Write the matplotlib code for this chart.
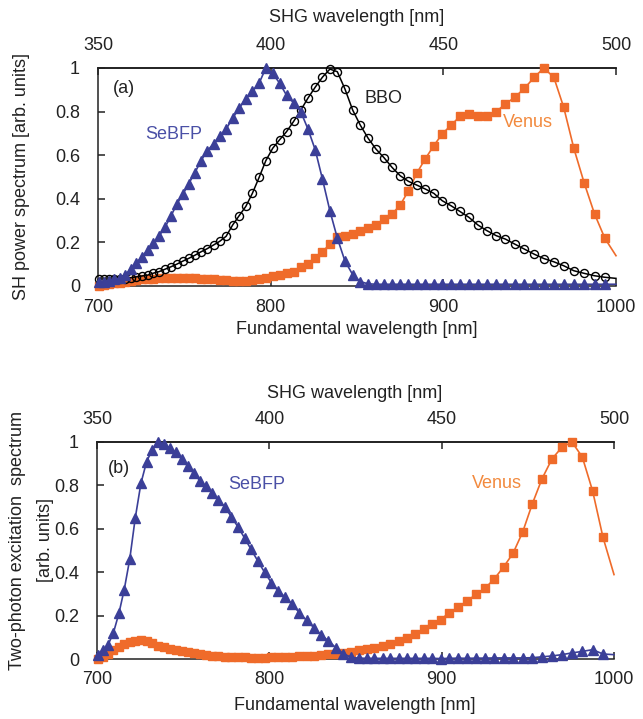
import matplotlib
matplotlib.use("Agg")
import matplotlib.pyplot as plt
from matplotlib.ticker import FuncFormatter, FixedLocator

plt.rcParams['font.family'] = ['Liberation Sans', 'DejaVu Sans']

# Fundamental wavelength grid (nm); last entry is the line end at 1000 nm (no marker)
wavelength = [700.3, 703.3, 706.4, 709.5, 712.7, 715.8, 719.0, 722.2, 725.5, 728.8,
              732.1, 735.4, 738.8, 742.2, 745.6, 749.1, 752.6, 756.1, 759.7, 763.2,
              766.9, 770.5, 774.2, 778.0, 781.7, 785.6, 789.4, 793.3, 797.2, 801.2,
              805.2, 809.2, 813.3, 817.4, 821.6, 825.8, 830.0, 834.3, 838.6, 843.0,
              847.5, 851.9, 856.5, 861.0, 865.7, 870.3, 875.0, 879.8, 884.6, 889.5,
              894.5, 899.4, 904.5, 909.6, 914.8, 920.0, 925.2, 930.6, 936.0, 941.4,
              947.0, 952.6, 958.2, 964.0, 969.7, 975.6, 981.6, 987.6, 993.6, 1000.0]

# (a) SH power spectrum
sh_sebfp = [0.02, 0.02, 0.025, 0.03, 0.035, 0.05, 0.08, 0.105, 0.135, 0.165,
            0.195, 0.23, 0.27, 0.32, 0.375, 0.42, 0.47, 0.52, 0.575, 0.62,
            0.652, 0.688, 0.72, 0.77, 0.815, 0.86, 0.893, 0.93, 1.0, 0.975,
            0.93, 0.875, 0.84, 0.80, 0.72, 0.625, 0.49, 0.345, 0.22, 0.115,
            0.052, 0.02, 0.01, 0.008, 0.008, 0.008, 0.008, 0.008, 0.008, 0.008,
            0.008, 0.008, 0.008, 0.008, 0.008, 0.008, 0.008, 0.008, 0.008, 0.008,
            0.008, 0.008, 0.008, 0.008, 0.008, 0.008, 0.008, 0.008, 0.008, 0.008]
sh_bbo = [0.032, 0.032, 0.032, 0.032, 0.033, 0.034, 0.038, 0.042, 0.046, 0.050,
          0.059, 0.066, 0.077, 0.088, 0.10, 0.114, 0.127, 0.141, 0.157, 0.171,
          0.188, 0.205, 0.228, 0.28, 0.322, 0.365, 0.425, 0.498, 0.575, 0.632,
          0.671, 0.708, 0.755, 0.806, 0.862, 0.912, 0.958, 0.995, 0.983, 0.904,
          0.807, 0.738, 0.677, 0.628, 0.588, 0.544, 0.506, 0.480, 0.463, 0.445,
          0.425, 0.391, 0.368, 0.342, 0.315, 0.28, 0.254, 0.231, 0.215, 0.192,
          0.169, 0.146, 0.126, 0.111, 0.093, 0.070, 0.058, 0.047, 0.040, 0.035]
sh_venus = [0.0, 0.003, 0.007, 0.012, 0.016, 0.02, 0.024, 0.027, 0.03, 0.032,
            0.034, 0.036, 0.037, 0.038, 0.038, 0.038, 0.037, 0.036, 0.034, 0.032,
            0.03, 0.028, 0.026, 0.025, 0.024, 0.025, 0.027, 0.031, 0.037, 0.047,
            0.052, 0.059, 0.066, 0.085, 0.10, 0.128, 0.157, 0.192, 0.223, 0.231,
            0.240, 0.252, 0.264, 0.280, 0.307, 0.330, 0.371, 0.437, 0.517, 0.583,
            0.644, 0.698, 0.738, 0.778, 0.789, 0.781, 0.778, 0.80, 0.835, 0.866,
            0.907, 0.957, 1.0, 0.957, 0.82, 0.631, 0.472, 0.330, 0.218, 0.139]

# (b) Two-photon excitation spectrum
tp_sebfp = [0.02, 0.04, 0.065, 0.12, 0.21, 0.32, 0.46, 0.65, 0.81, 0.91,
            0.965, 1.0, 0.99, 0.972, 0.953, 0.922, 0.888, 0.856, 0.822, 0.795,
            0.766, 0.735, 0.70, 0.655, 0.61, 0.558, 0.505, 0.452, 0.40, 0.352,
            0.313, 0.285, 0.252, 0.213, 0.178, 0.145, 0.112, 0.083, 0.052, 0.024,
            0.008, 0.004, 0.003, 0.003, 0.003, 0.003, 0.003, 0.003, 0.003, 0.003,
            0.003, 0.002, 0.003, 0.004, 0.003, 0.004, 0.004, 0.005, 0.005, 0.005,
            0.005, 0.006, 0.01, 0.014, 0.02, 0.028, 0.035, 0.043, 0.023, 0.02]
tp_venus = [0.0, 0.01, 0.025, 0.04, 0.055, 0.068, 0.078, 0.085, 0.088, 0.083,
            0.072, 0.062, 0.054, 0.047, 0.041, 0.036, 0.031, 0.027, 0.023, 0.019,
            0.016, 0.013, 0.011, 0.009, 0.008, 0.007, 0.006, 0.006, 0.006, 0.007,
            0.008, 0.009, 0.01, 0.012, 0.013, 0.015, 0.018, 0.021, 0.024, 0.029,
            0.034, 0.04, 0.044, 0.05, 0.058, 0.068, 0.082, 0.097, 0.117, 0.14,
            0.163, 0.182, 0.213, 0.24, 0.268, 0.298, 0.326, 0.37, 0.425, 0.487,
            0.585, 0.715, 0.83, 0.922, 0.975, 1.0, 0.931, 0.774, 0.561, 0.389]

x_ticks = [700, 800, 900, 1000]
shg_ticks = [350, 400, 450, 500]
y_ticks = [0, 0.2, 0.4, 0.6, 0.8, 1.0]

BLUE = '#3b3f98'
BLUE_TXT = '#4a50a6'
ORANGE = '#ef6b2a'
ORANGE_TXT = '#f28a3e'
TXT = '#222222'

W, H = 643, 719
fig = plt.figure(figsize=(W / 100, H / 100), dpi=100)


def axes_px(left, top, right, bottom):
    return fig.add_axes([left / W, 1 - bottom / H, (right - left) / W, (bottom - top) / H])


ax1 = axes_px(98, 68, 616, 286)
ax2 = axes_px(97, 442, 614, 659)

nmark = len(wavelength) - 1


def yfmt(v, _):
    if abs(v) < 1e-9:
        return '0'
    if abs(v - 1) < 1e-9:
        return '1'
    return f'{v:.1f}'


def style(ax):
    ax.set_xlim(700, 1000)
    ax.set_ylim(0, 1)
    ax.spines['right'].set_visible(False)
    for s in ['left', 'bottom', 'top']:
        ax.spines[s].set_linewidth(1.1)
        ax.spines[s].set_color('#222222')
    ax.xaxis.set_major_locator(FixedLocator(x_ticks))
    ax.yaxis.set_major_locator(FixedLocator(y_ticks))
    ax.yaxis.set_major_formatter(FuncFormatter(yfmt))
    ax.tick_params(axis='x', direction='in', length=5, width=1.1, labelsize=13,
                   pad=9, colors=TXT, top=False)
    ax.tick_params(axis='y', direction='in', length=5, width=1.1, labelsize=13,
                   pad=13, colors=TXT, right=False)
    sec = ax.secondary_xaxis('top', functions=(lambda x: x / 2, lambda x: x * 2))
    sec.xaxis.set_major_locator(FixedLocator(shg_ticks))
    sec.tick_params(direction='in', length=5, width=1.1, labelsize=13, pad=10, colors=TXT)
    sec.spines['top'].set_linewidth(1.1)
    return sec


def series(ax, y, color, marker, ms, mfc, mec, lw=1.2, z=3):
    ax.plot(wavelength, y, color=color, lw=lw, marker=marker, ms=ms,
            mfc=mfc, mec=mec, mew=1.0, markevery=list(range(nmark)),
            clip_on=False, zorder=z)


style(ax1)
series(ax1, sh_venus, ORANGE, 's', 5.4, ORANGE, ORANGE, z=3)
series(ax1, sh_bbo, 'black', 'o', 5.8, 'none', 'black', lw=1.1, z=4)
series(ax1, sh_sebfp, BLUE, '^', 6.6, BLUE, BLUE, z=5)

style(ax2)
series(ax2, tp_venus, ORANGE, 's', 5.4, ORANGE, ORANGE, z=3)
series(ax2, tp_sebfp, BLUE, '^', 6.6, BLUE, BLUE, z=4)

# annotations
ax1.text(0.029, 0.908, '(a)', transform=ax1.transAxes, fontsize=13, color=TXT, va='center')
ax1.text(0.091, 0.697, 'SeBFP', transform=ax1.transAxes, fontsize=13, color=BLUE_TXT, va='center')
ax1.text(0.515, 0.858, 'BBO', transform=ax1.transAxes, fontsize=13, color=TXT, va='center')
ax1.text(0.782, 0.752, 'Venus', transform=ax1.transAxes, fontsize=13, color=ORANGE_TXT, va='center')

ax2.text(0.021, 0.880, '(b)', transform=ax2.transAxes, fontsize=13, color=TXT, va='center')
ax2.text(0.253, 0.802, 'SeBFP', transform=ax2.transAxes, fontsize=13, color=BLUE_TXT, va='center')
ax2.text(0.725, 0.811, 'Venus', transform=ax2.transAxes, fontsize=13, color=ORANGE_TXT, va='center')

# axis titles
fig.text(357 / W, 1 - 18 / H, 'SHG wavelength [nm]', ha='center', va='center', fontsize=13, color=TXT)
fig.text(357 / W, 1 - 330 / H, 'Fundamental wavelength [nm]', ha='center', va='center', fontsize=13, color=TXT)
fig.text(22 / W, 1 - 177 / H, 'SH power spectrum [arb. units]', rotation=90,
         ha='center', va='center', fontsize=13, color=TXT)

fig.text(355 / W, 1 - 393 / H, 'SHG wavelength [nm]', ha='center', va='center', fontsize=13, color=TXT)
fig.text(355 / W, 1 - 705 / H, 'Fundamental wavelength [nm]', ha='center', va='center', fontsize=13, color=TXT)
fig.text(18 / W, 1 - 540 / H, 'Two-photon excitation  spectrum', rotation=90,
         ha='center', va='center', fontsize=13, color=TXT)
fig.text(45 / W, 1 - 540 / H, '[arb. units]', rotation=90,
         ha='center', va='center', fontsize=13, color=TXT)

fig.savefig('out.png', dpi=100)
